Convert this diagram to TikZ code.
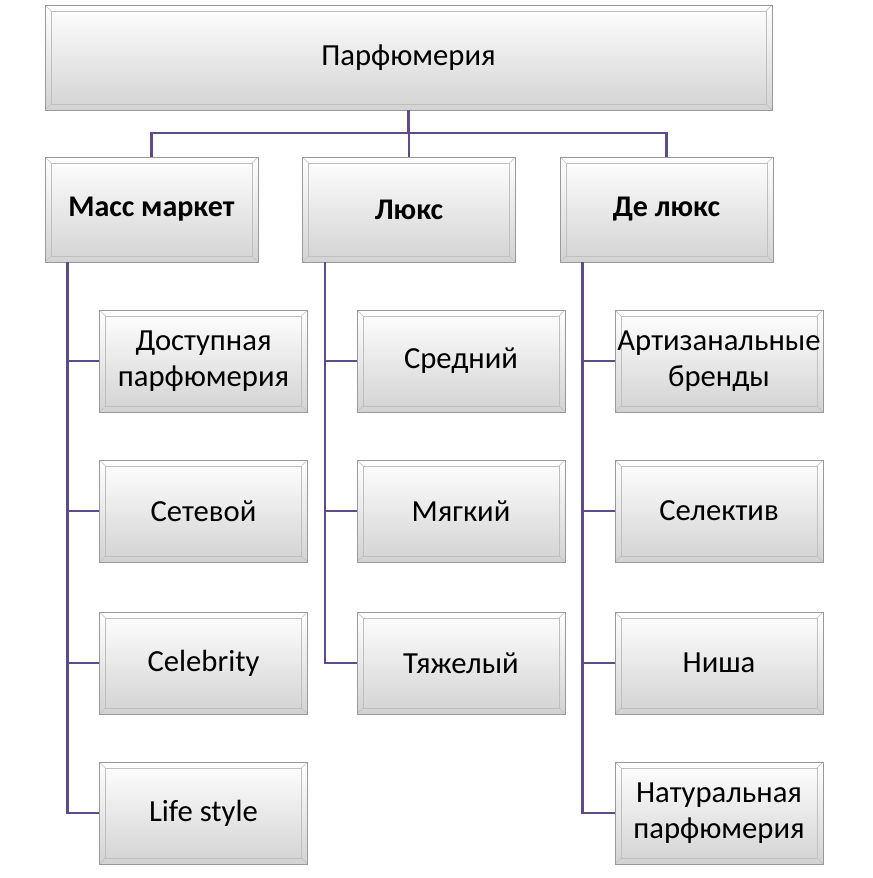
\documentclass[tikz,border=0pt]{standalone}
\usepackage{fontspec}
\setmainfont{Carlito}
\usetikzlibrary{positioning}
\definecolor{lin}{HTML}{5F4B8B}
\tikzset{
  bev/.style={draw=gray!80, top color=white, bottom color=gray!35, align=center,
    inner sep=0pt, font=\fontsize{23}{27}\selectfont,
    path picture={
      \draw[gray!50] ([shift={(4.5pt,-4.5pt)}]path picture bounding box.north west) rectangle ([shift={(-4.5pt,4.5pt)}]path picture bounding box.south east);
      \draw[gray!50] (path picture bounding box.north west) -- ++(4.5pt,-4.5pt);
      \draw[gray!50] (path picture bounding box.north east) -- ++(-4.5pt,-4.5pt);
      \draw[gray!50] (path picture bounding box.south west) -- ++(4.5pt,4.5pt);
      \draw[gray!50] (path picture bounding box.south east) -- ++(-4.5pt,4.5pt);
    }},
  lv2/.style={bev, minimum width=159.75pt, minimum height=78.75pt, font=\fontsize{22.5}{27}\selectfont\bfseries},
  lv3/.style={bev, minimum width=156pt, minimum height=76.5pt},
  con/.style={draw=lin, line width=1.6pt}
}
\begin{document}
\begin{tikzpicture}[x=0.75pt,y=-0.75pt]
\useasboundingbox (0,0) rectangle (872,878);
\node[bev, minimum width=545.25pt, minimum height=78.75pt] (top) at (408.5,57.5) {Парфюмерия};
\node[lv2] (a) at (151.5,209.5) {Масс маркет};
\node[lv2] (b) at (409,209.5) {Люкс};
\node[lv2] (c) at (666.5,209.5) {Де люкс};
\node[lv3] (a1) at (203.5,361) {Доступная\\парфюмерия};
\node[lv3] (a2) at (203.5,511) {Сетевой};
\node[lv3] (a3) at (203.5,663) {Celebrity};
\node[lv3] (a4) at (203.5,813) {Life style};
\node[lv3] (b1) at (461,361) {Средний};
\node[lv3] (b2) at (461,511) {Мягкий};
\node[lv3] (b3) at (461,663) {Тяжелый};
\node[lv3] (c1) at (719,361) {Артизанальные\\бренды};
\node[lv3] (c2) at (719,511) {Селектив};
\node[lv3] (c3) at (719,663) {Ниша};
\node[lv3] (c4) at (719,813) {Натуральная\\парфюмерия};
\coordinate (j) at (408.5,133);
\draw[con] (top.south) -- (j);
\draw[con] (a.north) -- (a.north |- j) -- (c.north |- j) -- (c.north);
\draw[con] (b.north) -- (b.north |- j);
\foreach \p/\k in {a/a1,a/a2,a/a3,a/a4,b/b1,b/b2,b/b3,c/c1,c/c2,c/c3,c/c4}{
  \draw[con] ([xshift=-63pt]\p.south) |- (\k.west);
}
\end{tikzpicture}
\end{document}
